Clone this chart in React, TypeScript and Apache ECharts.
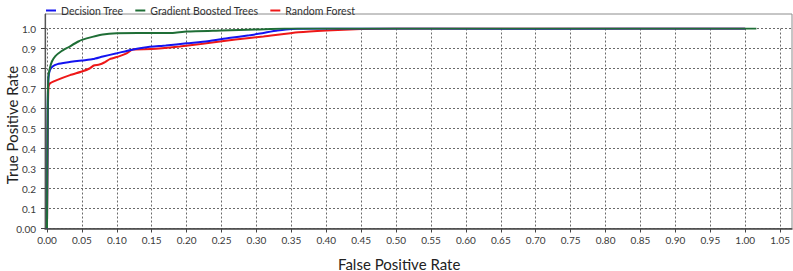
import React, { useEffect, useRef } from "react";
import * as echarts from "echarts";

const seriesNames = ["Decision Tree", "Gradient Boosted Trees", "Random Forest"];
const seriesColors = ["#1414f0", "#1f6e36", "#ee1818"];

const dtFpr = [0, 0.001, 0.002, 0.004, 0.008, 0.015, 0.028, 0.05, 0.066, 0.08, 0.1, 0.12, 0.14, 0.17, 0.2, 0.23, 0.26, 0.29, 0.31, 0.33, 0.35, 0.4, 0.7, 1.0];
const dtTpr = [0, 0.6, 0.75, 0.79, 0.81, 0.822, 0.83, 0.84, 0.847, 0.86, 0.876, 0.893, 0.905, 0.915, 0.926, 0.936, 0.952, 0.966, 0.978, 0.99, 0.998, 1.0, 0.999, 1.0];

const gbtFpr = [0, 0.001, 0.002, 0.004, 0.007, 0.012, 0.02, 0.03, 0.045, 0.05, 0.065, 0.08, 0.1, 0.13, 0.16, 0.18, 0.2, 0.25, 0.3, 0.34, 0.6, 1.016];
const gbtTpr = [0, 0.6, 0.76, 0.8, 0.835, 0.862, 0.885, 0.905, 0.935, 0.943, 0.958, 0.97, 0.976, 0.978, 0.977, 0.978, 0.985, 0.99, 0.995, 1.0, 1.0, 1.0];

const rfFpr = [0, 0.001, 0.002, 0.004, 0.014, 0.033, 0.05, 0.061, 0.067, 0.075, 0.082, 0.09, 0.104, 0.114, 0.123, 0.15, 0.19, 0.22, 0.27, 0.31, 0.36, 0.4, 0.45, 0.5, 1.0];
const rfTpr = [0, 0.5, 0.7, 0.725, 0.742, 0.767, 0.785, 0.8, 0.815, 0.82, 0.83, 0.847, 0.862, 0.876, 0.895, 0.897, 0.91, 0.922, 0.945, 0.96, 0.981, 0.99, 0.997, 1.0, 1.0];

const xTitle = "False Positive Rate";
const yTitle = "True Positive Rate";

const FONT = "Lato";

function zip(xs: number[], ys: number[]) {
  return xs.map((x, i) => [x, ys[i]]);
}

export default function App() {
  const ref = useRef<HTMLDivElement>(null);
  useEffect(() => {
    if (!ref.current) return;
    const chart = echarts.init(ref.current, null, { renderer: "svg" });
    const datasets = [zip(dtFpr, dtTpr), zip(gbtFpr, gbtTpr), zip(rfFpr, rfTpr)];
    const gridLine = { type: [2, 2] as any, color: "#6a6a6a", width: 1 };
    chart.setOption({
      animation: false,
      textStyle: { fontFamily: FONT },
      legend: {
        top: 0,
        left: 41,
        icon: "rect",
        itemWidth: 10,
        itemHeight: 2,
        itemGap: 12,
        textStyle: { fontSize: 10.5, color: "#333", fontFamily: FONT },
        data: seriesNames,
      },
      grid: [
        { left: 45, right: 1, top: 14, bottom: 42.5, show: true, borderColor: "#8c8c8c", borderWidth: 1, backgroundColor: "transparent" },
        { left: 45, right: 1, top: 28.5, bottom: 42.5 },
        { left: 47, right: 11, top: 28.5, bottom: 42.5 },
      ],
      xAxis: [
        {
          gridIndex: 0, type: "value", min: 0, max: 1,
          axisLine: { show: true, lineStyle: { color: "#444", width: 1.5 } },
          axisTick: { show: false }, axisLabel: { show: false }, splitLine: { show: false },
        },
        { gridIndex: 1, type: "value", min: 0, max: 1, show: false },
        {
          gridIndex: 2, type: "value", min: 0, max: 1.05, interval: 0.05,
          axisLine: { show: false },
          axisTick: { show: true, length: 4, lineStyle: { color: "#444" } },
          axisLabel: { fontSize: 10, color: "#3a3a3a", margin: 6, fontFamily: FONT, formatter: (v: number) => v.toFixed(2) },
          splitLine: { show: true, lineStyle: gridLine },
        },
      ],
      yAxis: [
        {
          gridIndex: 0, type: "value", min: 0, max: 1,
          axisLine: { show: true, lineStyle: { color: "#555", width: 1.2 } },
          axisTick: { show: false }, axisLabel: { show: false }, splitLine: { show: false },
        },
        {
          gridIndex: 1, type: "value", min: 0, max: 1, interval: 0.1,
          axisLine: { show: false },
          axisTick: { show: true, length: 4, lineStyle: { color: "#444" } },
          axisLabel: { fontSize: 10, color: "#3a3a3a", margin: 9, fontFamily: FONT, formatter: (v: number) => (v === 0 ? "0.00" : v.toFixed(1)) },
          splitLine: { show: true, lineStyle: gridLine },
        },
        { gridIndex: 2, type: "value", min: 0, max: 1, show: false },
      ],
      series: seriesNames.map((name, i) => ({
        name,
        type: "line",
        xAxisIndex: 2,
        yAxisIndex: 2,
        data: datasets[i],
        showSymbol: false,
        symbol: "none",
        smooth: 0.2,
        color: seriesColors[i],
        lineStyle: { width: 2, color: seriesColors[i] },
        z: i === 1 ? 5 : i === 0 ? 4 : 3,
      })),
      graphic: [
        {
          type: "text", left: 338, top: 256,
          style: { text: xTitle, fontSize: 15, fill: "#222", fontFamily: FONT },
        },
        {
          type: "text", x: 12, y: 125, rotation: Math.PI / 2,
          style: { text: yTitle, fontSize: 15, fill: "#222", fontFamily: FONT, align: "center", verticalAlign: "middle" },
        },
      ],
    });
    return () => chart.dispose();
  }, []);
  return <div ref={ref} style={{ position: "absolute", left: 0, top: 0, width: 793, height: 271 }} />;
}
